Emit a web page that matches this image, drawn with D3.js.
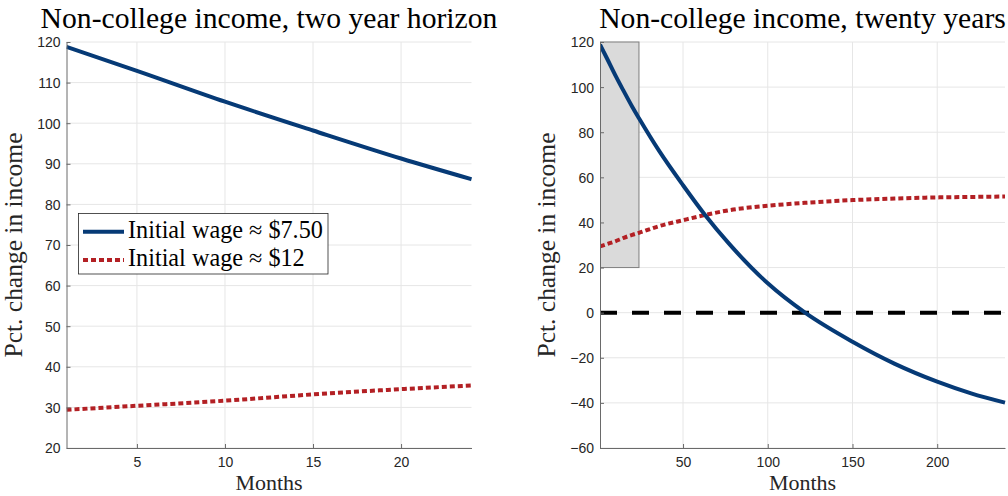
<!DOCTYPE html>
<html><head><meta charset="utf-8">
<script src="https://cdn.jsdelivr.net/npm/d3@7/dist/d3.min.js"></script>
<style>body{margin:0;background:#fff} svg{display:block}</style>
</head><body><svg id="c" width="1008" height="496"></svg>
<script>
// ---- data ----
const months  = [1, 5, 10, 15, 20, 24, 36, 50, 63, 77, 100, 122, 150, 175, 200, 220, 240];
const wage750 = [118.8, 112.9, 105.3, 98.2, 91.3, 86.2, 71.6, 56.5, 43.3, 30.7, 13.0, 0.0, -12.9, -22.7, -30.6, -35.8, -39.9];
const wage12  = [29.4, 30.4, 31.65, 33.2, 34.5, 35.4, 38.4, 41.0, 43.3, 45.4, 47.4, 48.7, 49.9, 50.6, 51.1, 51.3, 51.5];
const leftXDomain = [1, 24];
const leftYDomain = [20, 120];
const rightXDomain = [1, 240];
const rightYDomain = [-60, 120];
const leftXTicks = [5, 10, 15, 20];
const leftYTicks = [20, 30, 40, 50, 60, 70, 80, 90, 100, 110, 120];
const rightXTicks = [50, 100, 150, 200];
const rightYTicks = [-60, -40, -20, 0, 20, 40, 60, 80, 100, 120];
const shadeMonths = [1, 24];
const shadeValues = [20, 120];
const zeroLine = [0];
const titles = ["Non-college income, two year horizon", "Non-college income, twenty years"];
const xLabel = "Months";
const yLabel = "Pct. change in income";
const legendLabels = ["Initial wage \u2248 $7.50", "Initial wage \u2248 $12"];

// ---- style ----
const BLUE = "#063a76", RED = "#b32024";
const SERIF = "'Liberation Serif','Times New Roman',serif";
const SANS = "'Liberation Sans',Arial,Helvetica,sans-serif";
const svg = d3.select("#c");
const rows = months.map((m, i) => ({m, a: wage750[i], b: wage12[i]}));

function fit(sel, target) {
  const w = sel.node().getComputedTextLength();
  const fs = parseFloat(sel.attr("font-size"));
  return fs * target / w;
}

function panel(cfg) {
  const x = d3.scaleLinear().domain(cfg.xd).range([cfg.x0, cfg.x1]);
  const y = d3.scaleLinear().domain(cfg.yd).range([448, 42]);
  const g = svg.append("g");
  const clipId = "clip" + cfg.id;
  svg.append("clipPath").attr("id", clipId).append("rect")
    .attr("x", cfg.x0).attr("y", 30).attr("width", cfg.x1 - cfg.x0 + 4).attr("height", 418);
  // grid
  g.append("g").selectAll("line").data(cfg.xt).join("line")
    .attr("x1", d => x(d)).attr("x2", d => x(d)).attr("y1", y.range()[0]).attr("y2", y.range()[1])
    .attr("stroke", "#e6e6e6").attr("stroke-width", 1);
  g.append("g").selectAll("line").data(cfg.yt).join("line")
    .attr("x1", cfg.x0).attr("x2", cfg.x1).attr("y1", d => y(d)).attr("y2", d => y(d))
    .attr("stroke", "#e6e6e6").attr("stroke-width", 1);
  const plot = g.append("g").attr("clip-path", `url(#${clipId})`);
  if (cfg.shade) {
    plot.append("rect")
      .attr("x", x(shadeMonths[0])).attr("width", x(shadeMonths[1]) - x(shadeMonths[0]))
      .attr("y", y(shadeValues[1])).attr("height", y(shadeValues[0]) - y(shadeValues[1]))
      .attr("fill", "#dadada").attr("stroke", "#7f7f7f").attr("stroke-width", 1);
  }
  if (cfg.zero) {
    plot.selectAll(".zero").data(zeroLine).join("line")
      .attr("x1", x(cfg.xd[0])).attr("x2", x(cfg.xd[1])).attr("y1", d => y(d)).attr("y2", d => y(d))
      .attr("stroke", "#000").attr("stroke-width", 4).attr("stroke-dasharray", "17,15");
  }
  const data = rows.filter(r => r.m >= cfg.xd[0] && r.m <= cfg.xd[1]);
  const la = d3.line().x(d => x(d.m)).y(d => y(d.a)).curve(d3.curveMonotoneX);
  const lb = d3.line().x(d => x(d.m)).y(d => y(d.b)).curve(d3.curveMonotoneX);
  plot.append("path").attr("d", lb(data)).attr("fill", "none").attr("stroke", RED)
    .attr("stroke-width", 4).attr("stroke-dasharray", "5,3");
  plot.append("path").attr("d", la(data)).attr("fill", "none").attr("stroke", BLUE)
    .attr("stroke-width", 4);
  // axes
  const ax = g.append("g").attr("transform", "translate(0,448)")
    .call(d3.axisBottom(x).tickValues(cfg.xt).tickSizeInner(-4).tickSizeOuter(0).tickPadding(9));
  const ay = g.append("g").attr("transform", `translate(${cfg.x0},0)`)
    .call(d3.axisLeft(y).tickValues(cfg.yt).tickSizeInner(-4).tickSizeOuter(0).tickPadding(6));
  [ax, ay].forEach(a => {
    a.select(".domain").attr("stroke", "#6a6a6a");
    a.selectAll(".tick line").attr("stroke", "#6a6a6a");
    a.selectAll(".tick text").attr("fill", "#262626").attr("font-family", SANS).attr("font-size", 14);
  });
  ay.selectAll(".tick text").attr("dy", "0.35em");
  // texts
  const cx = (cfg.x0 + cfg.x1) / 2;
  const t = svg.append("text").attr("x", cx).attr("y", 28).attr("text-anchor", "middle")
    .attr("font-family", SERIF).attr("font-size", 28).attr("fill", "#000").text(cfg.title);
  const xl = svg.append("text").attr("x", cx).attr("y", 490).attr("text-anchor", "middle")
    .attr("font-family", SERIF).attr("font-size", 22).attr("fill", "#262626").text(xLabel);
  const yl = svg.append("text").attr("transform", `translate(${cfg.x0 - 45},245) rotate(-90)`)
    .attr("text-anchor", "middle").attr("font-family", SERIF).attr("font-size", 23)
    .attr("fill", "#262626").text(yLabel);
  return {x, y, t, xl, yl};
}

const L = panel({id: "L", xd: leftXDomain, yd: leftYDomain, x0: 66.5, x1: 471.5,
  xt: leftXTicks, yt: leftYTicks, title: titles[0]});
const R = panel({id: "R", xd: rightXDomain, yd: rightYDomain, x0: 600, x1: 1005,
  xt: rightXTicks, yt: rightYTicks, title: titles[1], shade: true, zero: true});

// size serif texts to the reference's widths
const tfs = fit(L.t, 457); L.t.attr("font-size", tfs); R.t.attr("font-size", tfs);
const yfs = fit(L.yl, 225); L.yl.attr("font-size", yfs); R.yl.attr("font-size", yfs);

// legend
const lg = svg.append("g");
lg.append("rect").attr("x", 78.5).attr("y", 213.5).attr("width", 249.5).attr("height", 60.5)
  .attr("fill", "#fff").attr("stroke", "#262626").attr("stroke-width", 0.8);
const items = lg.selectAll(".it").data(legendLabels).join("g");
items.append("line").attr("x1", 83).attr("x2", 124)
  .attr("y1", (d, i) => [231.7, 260][i]).attr("y2", (d, i) => [231.7, 260][i])
  .attr("stroke", (d, i) => i ? RED : BLUE).attr("stroke-width", 4)
  .attr("stroke-dasharray", (d, i) => i ? "5,3" : null);
const lt = items.append("text").attr("x", 128).attr("y", (d, i) => [237.5, 265.5][i])
  .attr("font-family", SERIF).attr("font-size", 22).attr("fill", "#000").text(d => d);
const lfs = fit(d3.select(lt.nodes()[0]), 195);
lt.attr("font-size", lfs);
</script></body></html>
